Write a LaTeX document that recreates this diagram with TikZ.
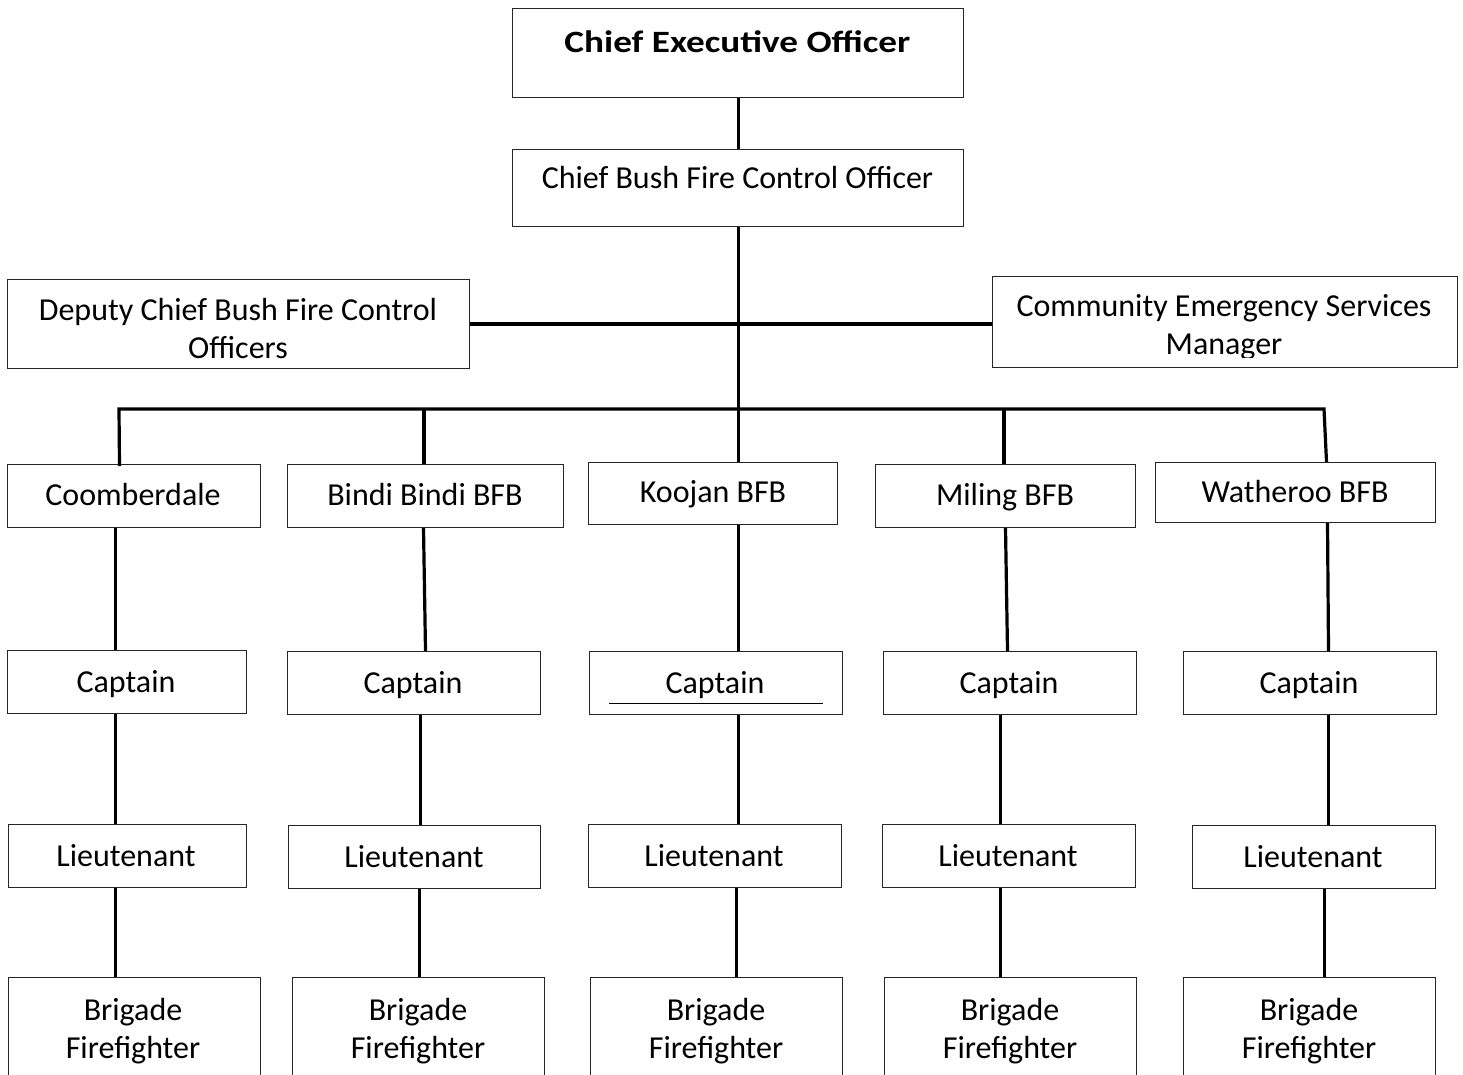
\documentclass[tikz,border=0pt]{standalone}
\usepackage{fontspec}
\setmainfont{Carlito}
\usetikzlibrary{calc}
\tikzset{
  orgbox/.style={draw=black!85, line width=1pt, inner sep=0pt, anchor=north west, rectangle},
  lbl/.style={font=\fontsize{32}{38}\selectfont, inner sep=0pt, anchor=base, align=center},
  conn/.style={line width=3.2pt, black, line join=miter},
}
\newcommand\obox[5]{\node[orgbox, minimum width={#4-#2}, minimum height={#5-#3}] (#1) at (#2,#3) {};}
\begin{document}
\begin{tikzpicture}[x=1pt,y=-1pt]
\clip (0,0) rectangle (1463,1074);
\fill[white] (0,0) rectangle (1463,1074);
% boxes
\obox{ceo}{512}{8}{963}{97}
\obox{cbf}{512}{149}{963}{226}
\obox{dep}{7}{279}{469}{368}
\obox{cem}{992}{276}{1457}{367}
\obox{coo}{7}{464}{260}{527}
\obox{bin}{287}{464}{563}{527}
\obox{koo}{588}{462}{837}{524}
\obox{mil}{875}{464}{1135}{527}
\obox{wat}{1155}{462}{1435}{522}
\obox{cap1}{7}{650}{246}{713}
\obox{cap2}{287}{651}{540}{714}
\obox{cap3}{589}{651}{842}{714}
\obox{cap4}{883}{651}{1136}{714}
\obox{cap5}{1183}{651}{1436}{714}
\obox{lie1}{8}{824}{246}{887}
\obox{lie2}{288}{825}{540}{888}
\obox{lie3}{588}{824}{841}{887}
\obox{lie4}{882}{824}{1135}{887}
\obox{lie5}{1192}{825}{1435}{888}
\obox{bri1}{8}{977}{260}{1100}
\obox{bri2}{292}{977}{544}{1100}
\obox{bri3}{590}{977}{842}{1100}
\obox{bri4}{884}{977}{1136}{1100}
\obox{bri5}{1183}{977}{1435}{1100}
% texts
\node[lbl, font=\fontsize{31}{38}\selectfont\bfseries] (ceo-t) at (737.5,52) {\scalebox{1.2}[1]{Chief Executive Officer}};
\node[lbl] (cbf-t) at (737.5,188.5) {Chief Bush Fire Control Officer};
\node[lbl] (dep-t) at (238,358) {Deputy Chief Bush Fire Control\\Officers};
\begin{scope}
\clip (992,276) rectangle (1457,357);
\node[lbl] (cem-t) at (1224,354) {Community Emergency Services\\Manager};
\end{scope}
\node[lbl] (coo-t) at (133,505) {Coomberdale};
\node[lbl] (bin-t) at (425,505) {Bindi Bindi BFB};
\node[lbl] (koo-t) at (713,502) {Koojan BFB};
\node[lbl] (mil-t) at (1005,505) {Miling BFB};
\node[lbl] (wat-t) at (1295,502) {Watheroo BFB};
\node[lbl] (cap1-t) at (126,692) {Captain};
\node[lbl] (cap2-t) at (413,693) {Captain};
\node[lbl] (cap3-t) at (715,693) {Captain};
\node[lbl] (cap4-t) at (1009,693) {Captain};
\node[lbl] (cap5-t) at (1309,693) {Captain};
\node[lbl] (lie1-t) at (126,866) {Lieutenant};
\node[lbl] (lie2-t) at (414,867) {Lieutenant};
\node[lbl] (lie3-t) at (714,866) {Lieutenant};
\node[lbl] (lie4-t) at (1008,866) {Lieutenant};
\node[lbl] (lie5-t) at (1313,867) {Lieutenant};
\node[lbl] (bri1-t) at (133,1058) {Brigade\\Firefighter};
\node[lbl] (bri2-t) at (418,1058) {Brigade\\Firefighter};
\node[lbl] (bri3-t) at (716,1058) {Brigade\\Firefighter};
\node[lbl] (bri4-t) at (1010,1058) {Brigade\\Firefighter};
\node[lbl] (bri5-t) at (1309,1058) {Brigade\\Firefighter};
% underline in Koojan captain box
\draw[line width=1pt] ($(cap3.south west)+(20,-12)$) -- ($(cap3.south east)+(-20,-12)$);
% connectors
\coordinate (busL) at (119,409);
\coordinate (busR) at (1324,409);
\coordinate (b2) at (424,409);
\coordinate (b4) at (1004,409);
\draw[conn] ([xshift=0.5]ceo.south) -- ([xshift=0.5]cbf.north);
\draw[conn] ([xshift=0.5]cbf.south) -- ([xshift=25.5]koo.north);
\draw[conn] (dep.east) -- (dep.east -| cem.west);
\draw[conn] ([xshift=-14.5,yshift=-2]coo.north) -- (busL) -- (busR) -- ([xshift=31]wat.north);
\draw[conn] (b2) -- (b2 |- bin.north);
\draw[conn] (b4) -- (b4 |- mil.north);
% column 1
\draw[conn] ([xshift=-18.5]coo.south) -- ([xshift=-11.5]cap1.north);
\draw[conn] ([xshift=-11.5]cap1.south) -- ([xshift=-12]lie1.north);
\draw[conn] ([xshift=-12]lie1.south) -- ([xshift=-19]bri1.north);
% column 2
\draw[conn] ([xshift=-2]bin.south) -- ([xshift=11.5]cap2.north);
\draw[conn] ([xshift=6.5]cap2.south) -- ([xshift=6]lie2.north);
\draw[conn] ([xshift=5]lie2.south) -- ([xshift=1]bri2.north);
% column 3
\draw[conn] ([xshift=25.5]koo.south) -- ([xshift=22.5]cap3.north);
\draw[conn] ([xshift=22.5]cap3.south) -- ([xshift=23.5]lie3.north);
\draw[conn] ([xshift=21.5]lie3.south) -- ([xshift=20]bri3.north);
% column 4
\draw[conn] ([xshift=0]mil.south) -- ([xshift=-2.5]cap4.north);
\draw[conn] ([xshift=-9.5]cap4.south) -- ([xshift=-8.5]lie4.north);
\draw[conn] ([xshift=-8.5]lie4.south) -- ([xshift=-10]bri4.north);
% column 5
\draw[conn] ([xshift=32]wat.south) -- ([xshift=18.5]cap5.north);
\draw[conn] ([xshift=18.5]cap5.south) -- ([xshift=14.5]lie5.north);
\draw[conn] ([xshift=10.5]lie5.south) -- ([xshift=15]bri5.north);
\end{tikzpicture}
\end{document}
